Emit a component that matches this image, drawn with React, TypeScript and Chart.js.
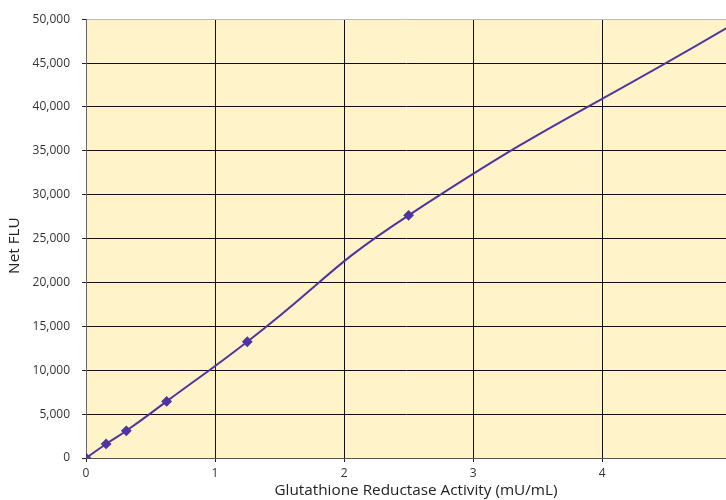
import React, { useEffect, useRef } from "react";
import { Chart, registerables } from "chart.js";

Chart.register(...registerables);

const activity = [0, 0.156, 0.3125, 0.625, 1.25, 2.5, 5];
const netFlu = [0, 1600, 3100, 6450, 13250, 27650, 49300];
const markerShown = [true, true, true, true, true, true, false];
const yTicks = [0, 5000, 10000, 15000, 20000, 25000, 30000, 35000, 40000, 45000, 50000];
const xTicks = [0, 1, 2, 3, 4];
const xTitle = "Glutathione Reductase Activity (mU/mL)";
const yTitle = "Net FLU";

const FONT = "'Open Sans', 'Noto Sans', sans-serif";

export default function App() {
  const ref = useRef<HTMLCanvasElement | null>(null);
  useEffect(() => {
    document.body.style.margin = "0";
    const bgPlugin = {
      id: "plotBg",
      beforeDraw(chart: any) {
        const { ctx, chartArea } = chart;
        ctx.save();
        ctx.fillStyle = "#FFF4C9";
        ctx.fillRect(chartArea.left, chartArea.top, chartArea.right - chartArea.left, chartArea.bottom - chartArea.top);
        ctx.restore();
      },
      afterDraw(chart: any) {
        const { ctx, chartArea } = chart;
        ctx.save();
        ctx.fillStyle = "#222";
        ctx.font = `15.3px ${FONT}`;
        ctx.textAlign = "center";
        ctx.textBaseline = "middle";
        ctx.fillText(xTitle, (chartArea.left + chartArea.right) / 2 + 10, chart.height - 9);
        ctx.translate(15, (chartArea.top + chartArea.bottom) / 2 + 7);
        ctx.rotate(-Math.PI / 2);
        ctx.fillText(yTitle, 0, 0);
        ctx.restore();
      },
    };
    const chart = new Chart(ref.current!, {
      type: "line",
      data: {
        datasets: [
          {
            label: yTitle,
            data: activity.map((x, i) => ({ x, y: netFlu[i] })),
            borderColor: "#5034A0",
            backgroundColor: "#5034A0",
            borderWidth: 2,
            pointStyle: "rectRot",
            pointRadius: markerShown.map((m) => (m ? 4 : 0)),
            pointHoverRadius: markerShown.map((m) => (m ? 4 : 0)),
            tension: 0.5,
            fill: false,
          },
        ],
      },
      options: {
        animation: false,
        responsive: false,
        maintainAspectRatio: false,
        layout: { autoPadding: false, padding: { top: 19, right: 0, left: 0, bottom: 0 } },
        plugins: { legend: { display: false }, tooltip: { enabled: false } },
        scales: {
          x: {
            type: "linear",
            min: 0,
            max: 4.96,
            afterFit(scale: any) {
              scale.height = 42;
            },
            afterBuildTicks(scale: any) {
              scale.ticks = xTicks.map((v) => ({ value: v }));
            },
            ticks: {
              color: "#333",
              font: { family: FONT, size: 12 },
              padding: 4,
              maxRotation: 0,
            },
            grid: { color: "#111", lineWidth: 1, tickLength: 4, tickColor: "#222" },
            border: { color: "#555", width: 1 },
            title: { display: false },
          },
          y: {
            type: "linear",
            min: 0,
            max: 50000,
            afterFit(scale: any) {
              scale.width = 86;
            },
            afterBuildTicks(scale: any) {
              scale.ticks = yTicks.map((v) => ({ value: v }));
            },
            ticks: {
              color: "#333",
              font: { family: FONT, size: 12 },
              padding: 12,
              callback: (v: any) => Number(v).toLocaleString("en-US"),
            },
            grid: {
              color: (c: any) => (c.tick && c.tick.value === 50000 ? "#bbb" : "#111"),
              lineWidth: 1,
              tickLength: 4,
              tickColor: "#222",
            },
            border: { color: "#666", width: 1 },
            title: { display: false },
          },
        },
      },
      plugins: [bgPlugin],
    });
    return () => chart.destroy();
  }, []);
  return (
    <div style={{ position: "fixed", left: 0, top: 0, width: 726, height: 500 }}>
      <canvas ref={ref} width={726} height={500} style={{ width: 726, height: 500 }} />
    </div>
  );
}
